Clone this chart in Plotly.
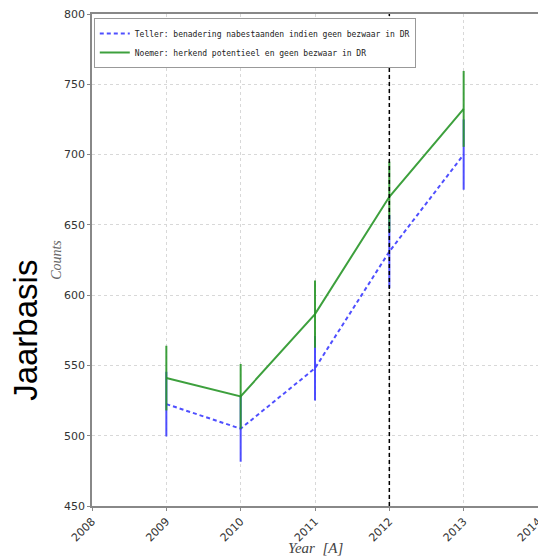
import plotly.graph_objects as go

years = [2009, 2010, 2011, 2012, 2013]
teller = [522.5, 505, 548, 631, 700]
teller_err = [23, 23.5, 23, 26, 25]
noemer = [541, 528, 586.5, 670, 732.5]
noemer_err = [23, 23, 24, 25, 27]
marker_year = 2012
x_ticks = [2008, 2009, 2010, 2011, 2012, 2013, 2014]
y_ticks = [450, 500, 550, 600, 650, 700, 750, 800]

blue = "rgba(60,60,255,0.9)"
green = "rgba(40,150,40,0.9)"

fig = go.Figure()
fig.add_trace(go.Scatter(
    x=years, y=teller, mode="lines",
    name="Teller: benadering nabestaanden indien geen bezwaar in DR",
    line=dict(color=blue, width=2, dash="4px,3px"),
    error_y=dict(type="data", array=teller_err, visible=True, color=blue, thickness=2, width=0),
))
fig.add_trace(go.Scatter(
    x=years, y=noemer, mode="lines",
    name="Noemer: herkend potentieel en geen bezwaar in DR",
    line=dict(color=green, width=2),
    error_y=dict(type="data", array=noemer_err, visible=True, color=green, thickness=2, width=0),
))

fig.add_shape(type="line", x0=marker_year, x1=marker_year, y0=0, y1=1,
              xref="x", yref="paper", line=dict(color="black", width=1.5, dash="4px,3px"))

fig.add_annotation(text="Jaarbasis", textangle=-90, xref="paper", yref="paper",
                   x=-0.148, y=0.358, xanchor="center", yanchor="middle", showarrow=False,
                   borderpad=0,
                   font=dict(family="Liberation Sans", size=33, color="black"))
fig.add_annotation(text="Counts", textangle=-90, xref="paper", yref="paper",
                   x=-0.081, y=0.5, xanchor="center", yanchor="middle", showarrow=False,
                   font=dict(family="Liberation Serif", size=14, color="#666", style="italic"))
fig.add_annotation(text="Year  [A]", xref="paper", yref="paper",
                   x=0.5, y=-0.085, xanchor="center", yanchor="middle", showarrow=False,
                   font=dict(family="Liberation Serif", size=15, color="#444", style="italic"))

# page body has an 8px default margin; figure is sized to fill the rest of the window
fig.update_layout(
    width=538, height=550,
    margin=dict(l=84, r=8, t=6, b=52),
    paper_bgcolor="white", plot_bgcolor="white",
    showlegend=True,
    legend=dict(x=0.004, y=0.992, xanchor="left", yanchor="top",
                bgcolor="white", bordercolor="#999", borderwidth=1,
                font=dict(family="DejaVu Sans Mono", size=8, color="#222"),
                itemwidth=30, tracegroupgap=0),
    xaxis=dict(range=[2008, 2014], tickvals=x_ticks, ticktext=[str(v) for v in x_ticks],
               tickangle=-45, showgrid=True, gridcolor="#d8d8d8", griddash="dot",
               showline=True, linecolor="#888", linewidth=1.5, mirror=True,
               ticks="outside", ticklen=3, tickcolor="#888", automargin=False,
               ticklabeloverflow="allow",
               tickfont=dict(family="DejaVu Sans", size=11, color="#333"),
               zeroline=False),
    yaxis=dict(range=[450, 800], tickvals=y_ticks, showgrid=True, gridcolor="#d8d8d8", griddash="dot",
               showline=True, linecolor="#888", linewidth=1.5, mirror=True,
               ticks="outside", ticklen=3, tickcolor="#888", automargin=False,
               ticklabeloverflow="allow",
               tickfont=dict(family="DejaVu Sans", size=11, color="#333"),
               zeroline=False),
)

fig.write_html("out.html")
